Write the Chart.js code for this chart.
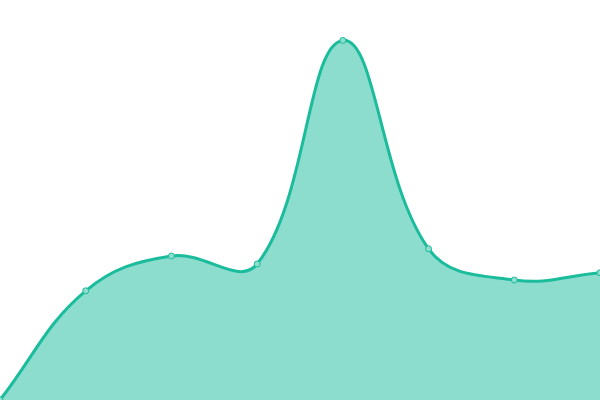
<!DOCTYPE html>
<html>
<head>
<meta charset="utf-8">
<script src="https://cdn.jsdelivr.net/npm/chart.js@4"></script>
<style>
  html, body { margin:0; padding:0; background:#fff; }
  #wrap { width:600px; height:400px; }
</style>
</head>
<body>
<div id="wrap"><canvas id="areaChart"></canvas></div>
<script>
// data
const labels = ['1', '2', '3', '4', '5', '6', '7', '8'];
const values = [0, 27.3, 36, 34, 89.9, 37.8, 30, 31.8];
const yMin = 0;
const yMax = 100;

const ctx = document.getElementById('areaChart').getContext('2d');
new Chart(ctx, {
  type: 'line',
  data: {
    labels,
    datasets: [{
      data: values,
      fill: true,
      tension: 0.4,
      borderWidth: 3,
      borderColor: '#1abc9c',
      backgroundColor: 'rgba(26,188,156,0.5)',
      pointRadius: 3,
      pointBorderWidth: 1,
      pointBackgroundColor: '#8ddecd',
      pointBorderColor: '#1abc9c'
    }]
  },
  options: {
    responsive: true,
    maintainAspectRatio: false,
    animation: false,
    layout: { padding: 0, autoPadding: false },
    plugins: { legend: { display:false }, tooltip: { enabled:false } },
    scales: {
      x: { display:false, offset:false },
      y: { display:false, min:yMin, max:yMax }
    }
  }
});
</script>
</body>
</html>
